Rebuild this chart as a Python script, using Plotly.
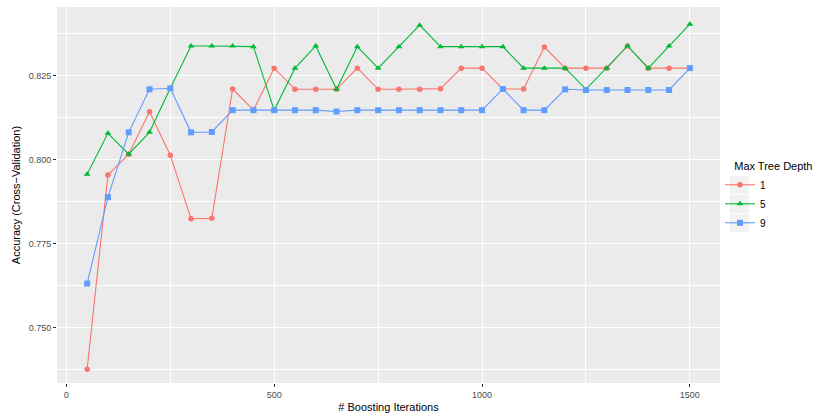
import plotly.graph_objects as go

# Boosting iterations evaluated in the tuning grid
iterations = [50, 100, 150, 200, 250, 300, 350, 400, 450, 500,
              550, 600, 650, 700, 750, 800, 850, 900, 950, 1000,
              1050, 1100, 1150, 1200, 1250, 1300, 1350, 1400, 1450, 1500]

# Cross-validated accuracy for each max tree depth
acc_depth1 = [0.7376, 0.7954, 0.8016, 0.8142, 0.8013, 0.7824, 0.7825, 0.8210, 0.8147, 0.8272,
              0.8209, 0.8209, 0.8209, 0.8272, 0.8209, 0.8209, 0.8209, 0.8211, 0.8272, 0.8272,
              0.8210, 0.8210, 0.8335, 0.8272, 0.8272, 0.8272, 0.8338, 0.8272, 0.8272, 0.8272]
acc_depth5 = [0.7956, 0.8078, 0.8016, 0.8081, 0.8212, 0.8338, 0.8338, 0.8338, 0.8336, 0.8147,
              0.8272, 0.8338, 0.8209, 0.8336, 0.8272, 0.8336, 0.8400, 0.8336, 0.8336, 0.8336,
              0.8336, 0.8272, 0.8272, 0.8272, 0.8209, 0.8272, 0.8338, 0.8272, 0.8338, 0.8403]
acc_depth9 = [0.7631, 0.7888, 0.8081, 0.8209, 0.8212, 0.8081, 0.8082, 0.8147, 0.8147, 0.8147,
              0.8147, 0.8147, 0.8143, 0.8147, 0.8147, 0.8147, 0.8147, 0.8147, 0.8147, 0.8147,
              0.8210, 0.8147, 0.8147, 0.8209, 0.8207, 0.8207, 0.8207, 0.8207, 0.8207, 0.8272]

depth_labels = ["1", "5", "9"]
series = [acc_depth1, acc_depth5, acc_depth9]
colors = ["#F8766D", "#00BA38", "#619CFF"]
symbols = ["circle", "triangle-up", "square"]

fig = go.Figure()
for name, vals, col, sym in zip(depth_labels, series, colors, symbols):
    fig.add_trace(go.Scatter(
        x=iterations, y=vals, name=name, mode="lines+markers",
        line=dict(color=col, width=1.1),
        marker=dict(color=col, symbol=sym, size=6 if sym != "circle" else 5.5),
    ))

# Panel geometry (pixels) used for legend key backgrounds
W, H = 826, 418
ml, mr, mt, mb = 57, 106, 7, 35
pw, ph = W - ml - mr, H - mt - mb

def px_x(px):
    return (px - ml) / pw

def px_y(py):
    return (H - mb - py) / ph

# grey key backgrounds behind legend symbols
for centre in [185, 204, 223]:
    fig.add_shape(type="rect", xref="paper", yref="paper",
                  x0=px_x(730), x1=px_x(749), y0=px_y(centre + 9), y1=px_y(centre - 9),
                  fillcolor="#F2F2F2", line=dict(width=0), layer="below")

font_family = "Liberation Sans, Arial, sans-serif"
nb = "\u00a0"

fig.update_layout(
    width=W, height=H,
    margin=dict(l=ml, r=mr, t=mt, b=mb),
    paper_bgcolor="white",
    plot_bgcolor="#EBEBEB",
    font=dict(family=font_family, color="black", size=11),
    showlegend=True,
    legend=dict(
        title=dict(text=nb * 4 + "Max Tree Depth", font=dict(size=11, color="black")),
        font=dict(size=10, color="black"),
        x=1.0, xanchor="left", y=0.4947, yanchor="middle",
        bgcolor="rgba(0,0,0,0)", itemwidth=30, tracegroupgap=0,
    ),
    xaxis=dict(
        range=[-22.5, 1572.5], tickmode="linear", tick0=0, dtick=500,
        showgrid=True, gridcolor="white", gridwidth=1.1, zeroline=False,
        ticks="outside", ticklen=3, tickcolor="#333333", tickwidth=1,
        tickfont=dict(size=9, color="#4D4D4D"),
        minor=dict(tick0=0, dtick=250, showgrid=True, gridcolor="white", gridwidth=0.5, ticks=""),
        title=dict(text="# Boosting Iterations", font=dict(size=11, color="black"), standoff=4),
        showline=False,
    ),
    yaxis=dict(
        range=[0.7335, 0.8454], tickmode="array",
        tickvals=[0.750, 0.775, 0.800, 0.825],
        ticktext=["0.750", "0.775", "0.800", "0.825"],
        showgrid=True, gridcolor="white", gridwidth=1.1, zeroline=False,
        ticks="outside", ticklen=3, tickcolor="#333333", tickwidth=1,
        tickfont=dict(size=9, color="#4D4D4D"),
        minor=dict(tickmode="array", tickvals=[0.7375, 0.7625, 0.7875, 0.8125, 0.8375],
                   showgrid=True, gridcolor="white", gridwidth=0.5, ticks=""),
        title=dict(text="Accuracy (Cross\u2212Validation)", font=dict(size=11, color="black"), standoff=5),
        showline=False,
    ),
)

fig.write_html("out.html")
